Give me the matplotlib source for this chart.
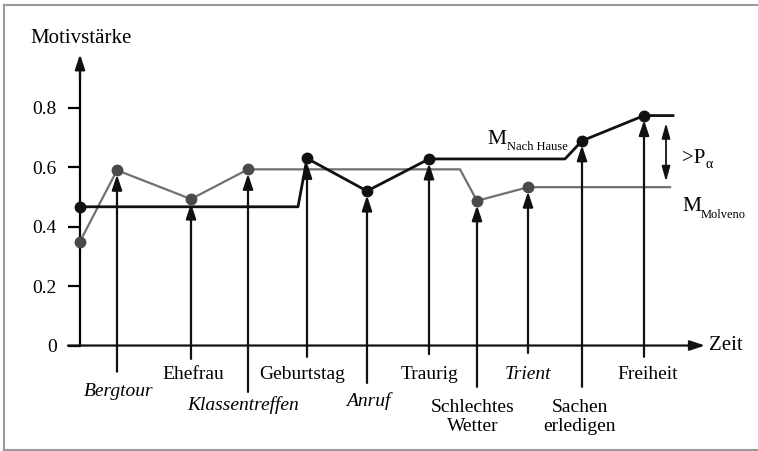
import matplotlib.pyplot as plt
from matplotlib.lines import Line2D

plt.rcParams['font.family'] = ['Liberation Serif', 'DejaVu Serif']

# events on the time axis
ereignisse = ['Bergtour', 'Ehefrau', 'Klassentreffen', 'Geburtstag', 'Anruf',
              'Traurig', 'Schlechtes\nWetter', 'Trient', 'Sachen\nerledigen', 'Freiheit']
zeit = [3.7, 11.1, 16.8, 22.7, 28.7, 34.9, 39.7, 44.8, 50.2, 56.4]
wert = [0.59, 0.493, 0.593, 0.63, 0.52, 0.628, 0.487, 0.533, 0.689, 0.774]
motiv = ['Molveno', 'Molveno', 'Molveno', 'Nach Hause', 'Nach Hause',
         'Nach Hause', 'Molveno', 'Molveno', 'Nach Hause', 'Nach Hause']
kursiv = [True, False, True, False, True, False, False, True, False, False]

# motive strength curves
nach_hause_x = [0, 21.8, 22.7, 28.7, 34.9, 48.5, 50.2, 56.4, 59.3]
nach_hause_y = [0.467, 0.467, 0.63, 0.52, 0.628, 0.628, 0.689, 0.774, 0.774]
molveno_x = [0, 3.7, 11.1, 16.8, 38.0, 39.7, 44.8, 59.0]
molveno_y = [0.35, 0.59, 0.493, 0.593, 0.593, 0.487, 0.533, 0.533]

yticks = [0, 0.2, 0.4, 0.6, 0.8]
yticklabels = ['0', '0.2', '0.4', '0.6', '0.8']

# layout below the axis
drop = [-0.088, -0.045, -0.156, -0.038, -0.126, -0.029, -0.139, -0.025, -0.139, -0.038]
label_x = [3.9, 11.3, 16.3, 22.2, 28.8, 35.0, 39.3, 44.8, 50.0, 56.8]
label_y = [-0.156, -0.099, -0.2, -0.099, -0.188, -0.099, -0.239, -0.099, -0.239, -0.099]

schwarz = '#111111'
grau = '#707070'
grau_punkt = '#4a4a4a'
fs = 14

fig = plt.figure(figsize=(7.58, 4.51), dpi=100)
ax = fig.add_axes([0, 0, 1, 1])
ax.set_xlim(-8.0, 67.8)
ax.set_ylim(-0.355, 1.163)
ax.patch.set_visible(False)

for s in ['top', 'right', 'bottom']:
    ax.spines[s].set_visible(False)
ax.spines['left'].set_position(('data', 0))
ax.spines['left'].set_bounds(0, 0.95)
ax.spines['left'].set_linewidth(1.6)
ax.set_xticks([])
ax.set_yticks(yticks)
ax.set_yticklabels(yticklabels, fontsize=fs)
ax.tick_params(axis='y', direction='out', length=8.6, width=1.6, pad=8)

ah = dict(arrowstyle='-|>,head_length=0.9,head_width=0.3', lw=1.6,
          color=schwarz, shrinkA=0, shrinkB=0, mutation_scale=10)
# axes arrows
ax.annotate('', xy=(0, 0.98), xytext=(0, 0.9), arrowprops=ah)
ax.annotate('', xy=(62.5, 0), xytext=(-1.2, 0), arrowprops=ah)
ax.text(62.9, 0, 'Zeit', fontsize=fs + 1, va='center', ha='left')
ax.text(-5.0, 1.035, 'Motivstärke', fontsize=fs + 1, va='center', ha='left')

# curves
ax.plot(molveno_x, molveno_y, color=grau, lw=1.6, zorder=3)
ax.plot(nach_hause_x, nach_hause_y, color=schwarz, lw=2.0, zorder=4)

mo_px = [0] + [z for z, m in zip(zeit, motiv) if m == 'Molveno']
mo_py = [molveno_y[0]] + [w for w, m in zip(wert, motiv) if m == 'Molveno']
nh_px = [0] + [z for z, m in zip(zeit, motiv) if m == 'Nach Hause']
nh_py = [nach_hause_y[0]] + [w for w, m in zip(wert, motiv) if m == 'Nach Hause']
ax.plot(mo_px, mo_py, 'o', color=grau_punkt, ms=7.5, zorder=5)
ax.plot(nh_px, nh_py, 'o', color=schwarz, ms=7.5, zorder=6)

# event arrows and labels
for name, z, w, d, lx, ly, it in zip(ereignisse, zeit, wert, drop, label_x, label_y, kursiv):
    pr = dict(ah)
    pr['shrinkB'] = 3.2
    ax.annotate('', xy=(z, w), xytext=(z, d), arrowprops=pr, zorder=4)
    ax.text(lx, ly, name, fontsize=fs, ha='center', va='center',
            style='italic' if it else 'normal', linespacing=1.15)

# motive labels
ax.text(40.7, 0.694, 'M', fontsize=fs + 1.5, ha='left', va='center')
ax.text(42.7, 0.667, 'Nach Hause', fontsize=9, ha='left', va='center')
ax.text(60.2, 0.467, 'M', fontsize=fs + 1.5, ha='left', va='center')
ax.text(62.1, 0.439, 'Molveno', fontsize=9, ha='left', va='center')

ax.annotate('', xy=(58.6, 0.749), xytext=(58.6, 0.552),
            arrowprops=dict(arrowstyle='<|-|>,head_length=0.9,head_width=0.25',
                            lw=1.3, color=schwarz, shrinkA=0, shrinkB=0,
                            mutation_scale=10))
ax.text(60.2, 0.630, '>P', fontsize=fs + 1, ha='left', va='center')
ax.text(62.5, 0.610, 'α', fontsize=10, ha='left', va='center')

# frame around the figure
for (x0, y0, x1, y1) in [(4 / 758, 1 - 5 / 451, 1, 1 - 5 / 451),
                         (4 / 758, 1 - 5 / 451, 4 / 758, 1 - 450 / 451),
                         (4 / 758, 1 - 450 / 451, 1, 1 - 450 / 451)]:
    fig.add_artist(Line2D([x0, x1], [y0, y1], color='#9a9a9a', lw=1.5))

fig.savefig('out.png', dpi=100)
